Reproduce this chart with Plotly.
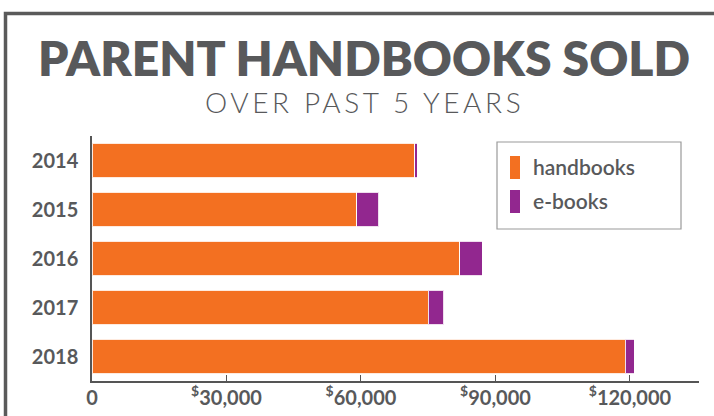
import plotly.graph_objects as go

years = ["2014", "2015", "2016", "2017", "2018"]
handbooks = [72000, 59000, 82000, 75000, 119000]
ebooks = [500, 5000, 5000, 3500, 2000]
x_tickvals = [0, 30000, 60000, 90000, 120000]
x_ticktext = ["0", "<sup>$</sup>30,000", "<sup>$</sup>60,000", "<sup>$</sup>90,000", "<sup>$</sup>120,000"]
series_names = ["handbooks", "e-books"]
colors = ["#F37021", "#92278F"]

TXT = "#58595b"
W, H = 714, 416
# plot area in screen pixels: x 92..699, y 136..381
L, R, T, B = 92, W - 699, 136, H - 381
pw, ph = W - L - R, H - T - B

def px(x):
    return (x - L) / pw

def py(y):
    return (H - B - y) / ph

fig = go.Figure()
for name, vals, col in zip(series_names, [handbooks, ebooks], colors):
    fig.add_trace(go.Bar(
        y=years, x=vals, name=name, orientation="h",
        marker=dict(color=col, line=dict(color="rgba(255,255,255,0.85)", width=1)),
        showlegend=False, hoverinfo="skip",
    ))

shapes = [
    dict(type="rect", xref="paper", yref="paper", x0=px(5.5), x1=px(760), y0=py(440), y1=py(13.5),
         line=dict(color="#5a5a5a", width=3.5), fillcolor="rgba(0,0,0,0)", layer="below"),
    dict(type="rect", xref="paper", yref="paper", x0=px(497), x1=px(681), y0=py(229), y1=py(142),
         line=dict(color="#9a9a9a", width=1.2), fillcolor="white"),
]
annotations = [
    dict(text="PARENT HANDBOOKS SOLD", xref="paper", yref="paper", x=px(364), y=py(58),
         xanchor="center", yanchor="middle", showarrow=False,
         font=dict(family="Lato", size=48, weight=800, color=TXT)),
    dict(text='<span style="letter-spacing:3.6px">OVER PAST 5 YEARS</span>', xref="paper", yref="paper",
         x=px(364), y=py(102), xanchor="center", yanchor="middle", showarrow=False,
         font=dict(family="Lato", size=28, weight=300, color=TXT)),
]
sw_tops = [156, 190]
for name, col, top in zip(series_names, colors, sw_tops):
    shapes.append(dict(type="rect", xref="paper", yref="paper", x0=px(510), x1=px(520),
                       y0=py(top + 23), y1=py(top), line=dict(width=0), fillcolor=col))
    annotations.append(dict(text=name, xref="paper", yref="paper", x=px(531), y=py(top + 10),
                            xanchor="left", yanchor="middle", showarrow=False,
                            font=dict(family="Lato", size=21, weight=600, color=TXT)))

fig.update_layout(
    template="none",
    barmode="stack", bargap=0.286,
    width=W, height=H,
    margin=dict(l=L, r=R, t=T, b=B, pad=0),
    paper_bgcolor="white", plot_bgcolor="white",
    shapes=shapes, annotations=annotations,
    xaxis=dict(range=[0, 135400], tickvals=x_tickvals, ticktext=x_ticktext, automargin=False,
               showgrid=False, zeroline=False, showline=True, linecolor="#555555", linewidth=1.5,
               ticks="inside", ticklen=6, tickwidth=1.2, tickcolor="#555555",
               tickfont=dict(family="Lato", size=20, weight=700, color=TXT),
               ticklabelstandoff=-2, layer="below traces"),
    yaxis=dict(type="category", categoryorder="array", categoryarray=years, range=[4.5, -0.5],
               automargin=False,
               showgrid=False, zeroline=False, showline=True, linecolor="#555555", linewidth=1.5,
               ticks="", tickfont=dict(family="Lato", size=20, weight=700, color=TXT),
               ticklabelstandoff=8, layer="below traces"),
)
fig.write_html("out.html", config={"displayModeBar": False},
               post_script="document.body.style.margin='0';document.body.style.overflow='hidden';")
